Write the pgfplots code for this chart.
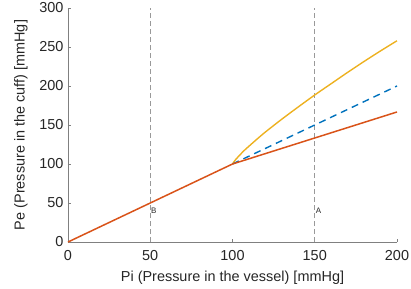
\documentclass[border=0pt]{standalone}
\usepackage{pgfplots}
\pgfplotsset{compat=1.18}
\usepackage{fontspec}
\setmainfont{Liberation Sans}
\definecolor{mblue}{rgb}{0,0.447,0.741}
\definecolor{morange}{rgb}{0.850,0.325,0.098}
\definecolor{myellow}{rgb}{0.929,0.694,0.125}
\definecolor{txtgray}{rgb}{0.15,0.15,0.15}
\begin{document}
\begin{tikzpicture}
\begin{axis}[
  scale only axis,
  width=329bp, height=234bp,
  xmin=0, xmax=200, ymin=0, ymax=300,
  axis x line*=bottom, axis y line*=left,
  axis line style={draw=black!50, line width=0.6pt, -},
  tick style={draw=black!50, line width=0.6pt},
  tick align=inside, major tick length=3.5bp,
  xtick={0,50,100,150,200}, ytick={0,50,100,150,200,250,300},
  every tick label/.append style={font=\fontsize{14.5}{16}\selectfont, text=txtgray},
  xticklabel style={yshift=-5bp},
  yticklabel style={xshift=-1bp},
  /pgf/number format/assume math mode=true,
  xlabel={Pi (Pressure in the vessel) [mmHg]},
  ylabel={Pe (Pressure in the cuff) [mmHg]},
  label style={font=\fontsize{14.5}{16}\selectfont, text=txtgray},
  xlabel style={at={(axis description cs:0.5,-0.152)}, anchor=center},
  ylabel style={at={(axis description cs:-0.143,0.5)}, anchor=center},
  clip=false,
]
\coordinate (O) at (axis description cs:0,0);
\addplot[black!40, dash pattern=on 5bp off 3bp, line width=0.6pt] coordinates {(50,0) (50,300)};
\addplot[black!40, dash pattern=on 5bp off 3bp, line width=0.6pt] coordinates {(150,0) (150,300)};
\addplot[myellow, line width=1.4pt, smooth] coordinates {
(100,100) (101,103.3) (102,105.9) (104,110.5) (107,117.1) (110,122.8) (115,132.1) (120,141) (130,157.5) (140,173.2) (150,188.5) (160,203) (170,217.5) (180,231.5) (190,245) (200,258)};
\addplot[mblue, line width=1.4pt, dash pattern=on 7bp off 5bp] coordinates {(100,100) (200,200)};
\addplot[morange, line width=1.5pt] coordinates {(0,0) (100,100) (200,166.7)};
\node[anchor=west, inner sep=0.8bp, font=\fontsize{8}{9}\selectfont, text=txtgray] at (axis cs:50,40) {B};
\node[anchor=west, inner sep=0.8bp, font=\fontsize{8}{9}\selectfont, text=txtgray] at (axis cs:150,40) {A};
\end{axis}
\pgfresetboundingbox
\path (O) ++(-68bp,-47bp) rectangle ++(411bp,289bp);
\end{tikzpicture}
\end{document}
